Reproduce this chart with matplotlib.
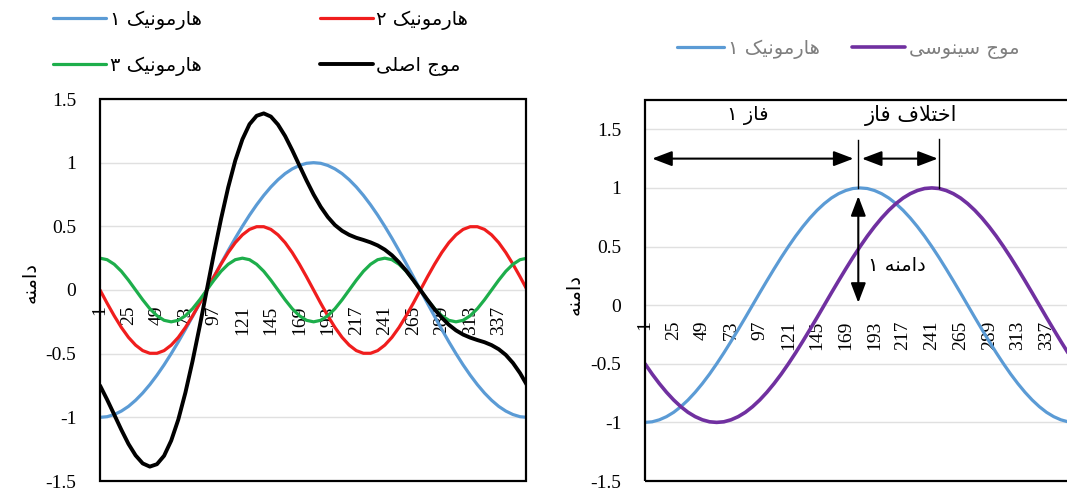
import matplotlib
matplotlib.use("Agg")
import matplotlib.pyplot as plt
import numpy as np
from matplotlib.patches import Rectangle
from matplotlib import font_manager
from matplotlib.ft2font import FT2Font

# ---------------- data ----------------
# category samples (every 6th category of 1..360)
categories = np.arange(1, 362, 6)
xtick_labels = ["1", "25", "49", "73", "97", "121", "145", "169", "193",
                "217", "241", "265", "289", "313", "337"]
yticks = [-1.5, -1, -0.5, 0, 0.5, 1, 1.5]
ytick_labels = ["-1.5", "-1", "-0.5", "0", "0.5", "1", "1.5"]

harmonic1 = [-1.000, -0.995, -0.978, -0.951, -0.914, -0.866, -0.809, -0.743, -0.669, -0.588,
             -0.500, -0.407, -0.309, -0.208, -0.105, 0.000, 0.105, 0.208, 0.309, 0.407,
             0.500, 0.588, 0.669, 0.743, 0.809, 0.866, 0.914, 0.951, 0.978, 0.995,
             1.000, 0.995, 0.978, 0.951, 0.914, 0.866, 0.809, 0.743, 0.669, 0.588,
             0.500, 0.407, 0.309, 0.208, 0.105, 0.000, -0.105, -0.208, -0.309, -0.407,
             -0.500, -0.588, -0.669, -0.743, -0.809, -0.866, -0.914, -0.951, -0.978, -0.995,
             -1.000]
harmonic2 = [0.000, -0.104, -0.203, -0.294, -0.372, -0.433, -0.476, -0.497, -0.497, -0.476,
             -0.433, -0.372, -0.294, -0.203, -0.104, 0.000, 0.104, 0.203, 0.294, 0.372,
             0.433, 0.476, 0.497, 0.497, 0.476, 0.433, 0.372, 0.294, 0.203, 0.104,
             0.000, -0.104, -0.203, -0.294, -0.372, -0.433, -0.476, -0.497, -0.497, -0.476,
             -0.433, -0.372, -0.294, -0.203, -0.104, 0.000, 0.104, 0.203, 0.294, 0.372,
             0.433, 0.476, 0.497, 0.497, 0.476, 0.433, 0.372, 0.294, 0.203, 0.104,
             0.000]
harmonic3 = [0.250, 0.238, 0.202, 0.147, 0.077, 0.000, -0.077, -0.147, -0.202, -0.238,
             -0.250, -0.238, -0.202, -0.147, -0.077, 0.000, 0.077, 0.147, 0.202, 0.238,
             0.250, 0.238, 0.202, 0.147, 0.077, 0.000, -0.077, -0.147, -0.202, -0.238,
             -0.250, -0.238, -0.202, -0.147, -0.077, 0.000, 0.077, 0.147, 0.202, 0.238,
             0.250, 0.238, 0.202, 0.147, 0.077, 0.000, -0.077, -0.147, -0.202, -0.238,
             -0.250, -0.238, -0.202, -0.147, -0.077, 0.000, 0.077, 0.147, 0.202, 0.238,
             0.250]
main_wave = [-0.750, -0.861, -0.979, -1.098, -1.209, -1.299, -1.362, -1.387, -1.368, -1.302,
             -1.183, -1.017, -0.805, -0.558, -0.286, 0.000, 0.286, 0.558, 0.805, 1.017,
             1.183, 1.302, 1.368, 1.387, 1.362, 1.299, 1.209, 1.098, 0.979, 0.861,
             0.750, 0.653, 0.573, 0.510, 0.465, 0.433, 0.410, 0.393, 0.374, 0.350,
             0.317, 0.273, 0.217, 0.152, 0.078, 0.000, -0.078, -0.152, -0.217, -0.273,
             -0.317, -0.350, -0.374, -0.393, -0.410, -0.433, -0.465, -0.510, -0.573, -0.653,
             -0.750]
sine_wave = [-0.500, -0.588, -0.669, -0.743, -0.809, -0.866, -0.914, -0.951, -0.978, -0.995,
             -1.000, -0.995, -0.978, -0.951, -0.914, -0.866, -0.809, -0.743, -0.669, -0.588,
             -0.500, -0.407, -0.309, -0.208, -0.105, 0.000, 0.105, 0.208, 0.309, 0.407,
             0.500, 0.588, 0.669, 0.743, 0.809, 0.866, 0.914, 0.951, 0.978, 0.995,
             1.000, 0.995, 0.978, 0.951, 0.914, 0.866, 0.809, 0.743, 0.669, 0.588,
             0.500, 0.407, 0.309, 0.208, 0.105, 0.000, -0.105, -0.208, -0.309, -0.407,
             -0.500]

lbl_h1 = "هارمونیک ۱"
lbl_h2 = "هارمونیک ۲"
lbl_h3 = "هارمونیک ۳"
lbl_main = "موج اصلی"
lbl_sine = "موج سینوسی"
lbl_y = "دامنه"
txt_phase = "فاز ۱"
txt_phase_diff = "اختلاف فاز"
txt_amp = "دامنه ۱"

# annotation anchors on the right chart (category, value)
phase_text_pos = (87, 1.62)
phase_diff_text_pos = (224, 1.62)
amp_text_pos = (212, 0.34)
double_arrows = [((7, 1.25), (175.5, 1.25)),
                 ((182.5, 1.25), (246, 1.25)),
                 ((179.5, 0.93), (179.5, 0.02))]
marker_lines = [(179.5, 1.0, 1.41), (247, 1.0, 1.42)]

# ---------------- Persian shaping helpers ----------------
_path = font_manager.findfont(font_manager.FontProperties(family="DejaVu Sans"))
_ft = FT2Font(_path)


def _has(ch):
    return _ft.get_char_index(ord(ch)) != 0


FORMS = {
    "ا": ("\uFE8D", "\uFE8E", None, None),
    "ت": ("\uFE95", "\uFE96", "\uFE97", "\uFE98"),
    "ج": ("\uFE9D", "\uFE9E", "\uFE9F", "\uFEA0"),
    "خ": ("\uFEA5", "\uFEA6", "\uFEA7", "\uFEA8"),
    "د": ("\uFEA9", "\uFEAA", None, None),
    "ر": ("\uFEAD", "\uFEAE", None, None),
    "ز": ("\uFEAF", "\uFEB0", None, None),
    "س": ("\uFEB1", "\uFEB2", "\uFEB3", "\uFEB4"),
    "ص": ("\uFEB9", "\uFEBA", "\uFEBB", "\uFEBC"),
    "ف": ("\uFED1", "\uFED2", "\uFED3", "\uFED4"),
    "ل": ("\uFEDD", "\uFEDE", "\uFEDF", "\uFEE0"),
    "م": ("\uFEE1", "\uFEE2", "\uFEE3", "\uFEE4"),
    "ن": ("\uFEE5", "\uFEE6", "\uFEE7", "\uFEE8"),
    "ه": ("\uFEE9", "\uFEEA", "\uFEEB", "\uFEEC"),
    "و": ("\uFEED", "\uFEEE", None, None),
    "ی": ("\uFBFC", "\uFBFD", "\uFBFE", "\uFBFF"),
    "ک": ("\uFB8E", "\uFB8F", "\uFB90", "\uFB91"),
    "لا": ("\uFEFB", "\uFEFC", None, None),
}
if not all(_has(c) for c in FORMS["ی"]):
    FORMS["ی"] = ("\uFEEF", "\uFEF0", "\uFEF3", "\uFEF4")
if not all(_has(c) for c in FORMS["ک"]):
    FORMS["ک"] = ("\uFED9", "\uFEDA", "\uFEDB", "\uFEDC")


def shape(text):
    words = text.split(" ")
    out = []
    for w in words:
        if not any(c in FORMS for c in w):
            out.append(w)
            continue
        units = []
        i = 0
        while i < len(w):
            if w[i] == "ل" and i + 1 < len(w) and w[i + 1] == "ا":
                units.append("لا")
                i += 2
            else:
                units.append(w[i])
                i += 1
        glyphs = []
        for k, u in enumerate(units):
            f = FORMS[u]
            pj = k > 0 and FORMS[units[k - 1]][2] is not None
            nj = f[2] is not None and k + 1 < len(units)
            if pj and nj:
                g = f[3]
            elif pj:
                g = f[1]
            elif nj:
                g = f[2]
            else:
                g = f[0]
            glyphs.append(g)
        out.append("".join(reversed(glyphs)))
    return " ".join(reversed(out))


# ---------------- figure ----------------
W, H = 1067, 496
fig = plt.figure(figsize=(W / 100, H / 100), dpi=100)
FA = ["DejaVu Sans"]
SERIF = ["Liberation Serif", "DejaVu Serif"]

C_BLUE = "#5B9BD5"
C_RED = "#F01D1D"
C_GREEN = "#1DAE4B"
C_BLACK = "#000000"
C_PURPLE = "#7030A0"

axL = fig.add_axes([100 / W, 1 - 481 / H, 426 / W, 382 / H])
axR = fig.add_axes([645 / W, 1 - 481 / H, 429 / W, 381 / H])


def style_axes(ax, ytop):
    ax.set_xlim(1, 360)
    ax.set_ylim(-1.5, ytop)
    for s in ax.spines.values():
        s.set_visible(False)
    ax.spines["bottom"].set_position(("data", 0))
    ax.add_patch(Rectangle((0, 0), 1, 1, transform=ax.transAxes, fill=False,
                           edgecolor="black", lw=1.6, clip_on=False, zorder=5))
    ax.set_yticks(yticks)
    ax.set_yticklabels(ytick_labels, fontfamily=SERIF, fontsize=14)
    ax.set_xticks([int(t) for t in xtick_labels])
    ax.set_xticklabels(xtick_labels, fontfamily=SERIF, fontsize=14, rotation=90)
    ax.tick_params(axis="y", length=0, pad=17)
    ax.tick_params(axis="x", length=0, pad=11)
    ax.yaxis.grid(True, color="#e0e0e0", lw=1.0)
    ax.xaxis.grid(False)
    ax.set_axisbelow(True)


style_axes(axL, 1.5)
style_axes(axR, 1.75)

kw = dict(solid_capstyle="round", solid_joinstyle="round")
l1, = axL.plot(categories, harmonic1, color=C_BLUE, lw=2.3, **kw)
l2, = axL.plot(categories, harmonic2, color=C_RED, lw=2.3, **kw)
l3, = axL.plot(categories, harmonic3, color=C_GREEN, lw=2.3, **kw)
l4, = axL.plot(categories, main_wave, color=C_BLACK, lw=2.8, **kw)

r1, = axR.plot(categories, harmonic1, color=C_BLUE, lw=2.3, **kw)
r2, = axR.plot(categories, sine_wave, color=C_PURPLE, lw=2.6, **kw)

for ax, ly in ((axL, 0.52), (axR, 0.49)):
    ax.set_ylabel(shape(lbl_y), fontfamily=FA, fontsize=14)
    ax.yaxis.set_label_coords(-0.142, ly)

# annotations on right chart
for (a, b) in double_arrows:
    axR.annotate("", xy=b, xytext=a,
                 arrowprops=dict(arrowstyle="<|-|>,head_length=1.0,head_width=0.38",
                                 color="black", lw=1.5, mutation_scale=12,
                                 shrinkA=0, shrinkB=0))
for (xc, y0, y1) in marker_lines:
    axR.plot([xc, xc], [y0, y1], color="black", lw=1.0)
axR.text(*phase_text_pos, shape(txt_phase), fontfamily=FA, fontsize=14,
         ha="center", va="center")
axR.text(*phase_diff_text_pos, shape(txt_phase_diff), fontfamily=FA, fontsize=15,
         ha="center", va="center")
axR.text(*amp_text_pos, shape(txt_amp), fontfamily=FA, fontsize=14,
         ha="center", va="center")

# legends
common = dict(frameon=False, loc="upper left", borderpad=0, borderaxespad=0,
              handletextpad=0.2, prop={"family": FA, "size": 14})
fig.legend([l1, l3], [shape(lbl_h1), shape(lbl_h3)],
           bbox_to_anchor=(53 / W, 1 - 10 / H), handlelength=2.75,
           labelspacing=1.32, **common)
fig.legend([l2, l4], [shape(lbl_h2), shape(lbl_main)],
           bbox_to_anchor=(320 / W, 1 - 10 / H), handlelength=2.7,
           labelspacing=1.32, **common)
lg1 = fig.legend([r1], [shape(lbl_h1)], bbox_to_anchor=(677 / W, 1 - 39 / H),
                 handlelength=2.4, **common)
lg2 = fig.legend([r2], [shape(lbl_sine)], bbox_to_anchor=(852 / W, 1 - 39 / H),
                 handlelength=2.75, **common)
for lg in (lg1, lg2):
    for t in lg.get_texts():
        t.set_color("#7f7f7f")

fig.savefig("out.png", dpi=100)
